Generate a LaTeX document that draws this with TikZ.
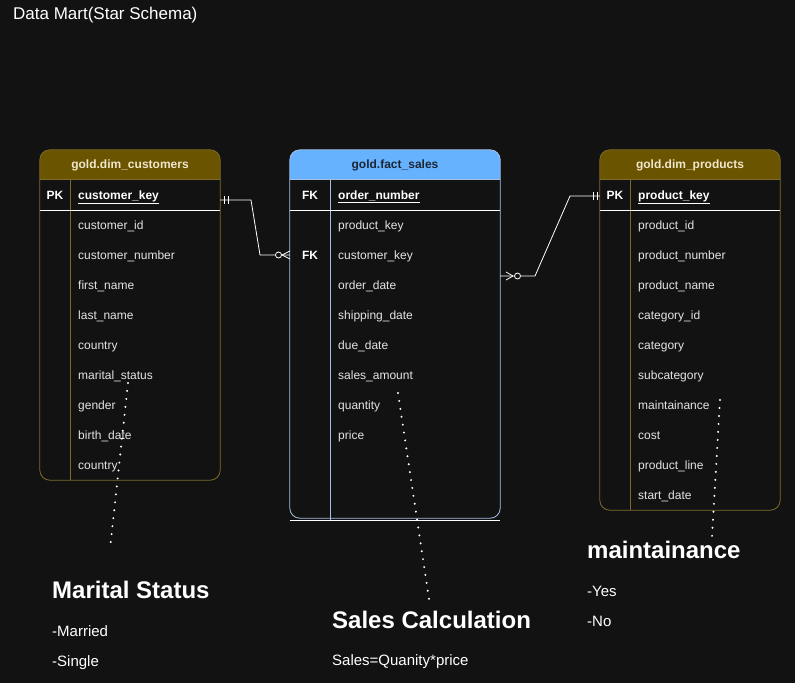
\documentclass[tikz,border=0pt]{standalone}
\usepackage{fontspec}
\setmainfont{Liberation Sans}
\definecolor{bgc}{HTML}{121212}
\definecolor{goldfill}{HTML}{6B5400}
\definecolor{goldline}{HTML}{7C6A2A}
\definecolor{bluefill}{HTML}{66B2FF}
\definecolor{blueline}{HTML}{A3BFE6}
\definecolor{txt}{HTML}{E4E4E4}
\definecolor{headtxt}{HTML}{EFE6CC}
\definecolor{bluetxt}{HTML}{1C2633}
\begin{document}
\begin{tikzpicture}[x=1pt,y=-1pt,
  rowtxt/.style={anchor=base west, inner sep=0pt, text=txt, font=\fontsize{12}{14}\selectfont},
  keytxt/.style={anchor=base west, inner sep=0pt, text=white, font=\fontsize{12}{14}\selectfont\bfseries},
  pktxt/.style={anchor=base, inner sep=0pt, text=white, font=\fontsize{12}{14}\selectfont\bfseries},
  hdtxt/.style={anchor=base, inner sep=0pt, font=\fontsize{12}{14}\selectfont\bfseries},
  tabbody/.style={fill=bgc, rounded corners=10pt, inner sep=0pt, minimum width=#1},
  conn/.style={draw=white, line width=0.8pt},
  dots/.style={draw=white, line width=2.2pt, line cap=round, dash pattern=on 0pt off 8pt},
  bigtxt/.style={anchor=base west, inner sep=0pt, text=white, font=\fontsize{24}{28}\selectfont\bfseries},
  smalltxt/.style={anchor=base west, inner sep=0pt, text=white, font=\fontsize{15}{18}\selectfont},
]
\fill[bgc] (0,0) rectangle (795,683);
\useasboundingbox (0,0) rectangle (795,683);

% title
\node[smalltxt, font=\fontsize{17}{20}\selectfont] (title) at (13,19) {Data Mart(Star Schema)};

% ---------- dim_customers ----------
\node[tabbody=180pt, minimum height=330pt] (cust) at (130,315) {};
\begin{scope}
  \clip (cust.north west) rectangle ([yshift=-30pt]cust.north east);
  \fill[goldfill, rounded corners=10pt] (cust.north west) rectangle (cust.south east);
\end{scope}
\draw[goldline, line width=0.8pt] ([yshift=-30pt]cust.north west) -- ([yshift=-30pt]cust.north east);
\draw[goldline, line width=0.8pt] (70,180) -- (cust.south -| 70,0);
\draw[white, line width=0.8pt] (cust.west |- 0,210) -- (cust.east |- 0,210);
\draw[goldline, line width=0.8pt, rounded corners=10pt] (cust.north west) rectangle (cust.south east);
\node[hdtxt, text=headtxt] (custh) at (130,168.7) {gold.dim\_customers};
\node[pktxt] (cpk) at (55,199.3) {PK};
\node[keytxt] (ckey) at (78,199.3) {\underline{customer\_key}};
\foreach \t [count=\i] in {customer\_id, customer\_number, first\_name, last\_name, country, marital\_status, gender, birth\_date, country}
  \node[rowtxt] (cr\i) at (78,195+30*\i+4.3) {\t};

% ---------- fact_sales ----------
\node[tabbody=210pt, minimum height=370pt] (fact) at (395,335) {};
\begin{scope}
  \clip (fact.north west) rectangle ([yshift=-30pt]fact.north east);
  \fill[bluefill, rounded corners=10pt] (fact.north west) rectangle (fact.south east);
\end{scope}
\draw[blueline, line width=0.8pt] ([yshift=-30pt]fact.north west) -- ([yshift=-30pt]fact.north east);
\draw[blueline, line width=0.8pt] (330,180) -- (fact.south -| 330,0);
\draw[white, line width=0.8pt] (fact.west |- 0,210) -- (fact.east |- 0,210);
\draw[blueline, line width=0.8pt, rounded corners=10pt] (fact.north west) rectangle ([yshift=2pt]fact.south east);
\draw[white, line width=0.9pt] (fact.south west) -- (fact.south east);
\node[hdtxt, text=bluetxt] (facth) at (395,168.7) {gold.fact\_sales};
\node[pktxt] (fpk) at (310,199.3) {FK};
\node[keytxt] (fkey) at (338,199.3) {\underline{order\_number}};
\node[pktxt] (ffk) at (310,259.3) {FK};
\foreach \t [count=\i] in {product\_key, customer\_key, order\_date, shipping\_date, due\_date, sales\_amount, quantity, price}
  \node[rowtxt] (fr\i) at (338,195+30*\i+4.3) {\t};

% ---------- dim_products ----------
\node[tabbody=180pt, minimum height=360pt] (prod) at (690,330) {};
\begin{scope}
  \clip (prod.north west) rectangle ([yshift=-30pt]prod.north east);
  \fill[goldfill, rounded corners=10pt] (prod.north west) rectangle (prod.south east);
\end{scope}
\draw[goldline, line width=0.8pt] ([yshift=-30pt]prod.north west) -- ([yshift=-30pt]prod.north east);
\draw[goldline, line width=0.8pt] (630,180) -- (prod.south -| 630,0);
\draw[white, line width=0.8pt] (prod.west |- 0,210) -- (prod.east |- 0,210);
\draw[goldline, line width=0.8pt, rounded corners=10pt] (prod.north west) rectangle (prod.south east);
\node[hdtxt, text=headtxt] (prodh) at (690,168.7) {gold.dim\_products};
\node[pktxt] (ppk) at (615,199.3) {PK};
\node[keytxt] (pkey) at (638,199.3) {\underline{product\_key}};
\foreach \t [count=\i] in {product\_id, product\_number, product\_name, category\_id, category, subcategory, maintainance, cost, product\_line, start\_date}
  \node[rowtxt] (pr\i) at (638,195+30*\i+4.3) {\t};

% ---------- connectors ----------
\coordinate (k1) at (251,200);
\coordinate (k2) at (260,255);
\draw[conn] (cust.east |- 0,200) -- (k1) -- (k2) -- (fact.west |- 0,255);
\draw[conn] (224,196) -- (224,204) (228,196) -- (228,204);
\draw[conn] (282,255) -- (290,251) (282,255) -- (290,259);
\draw[conn, fill=bgc] (278.5,255) circle (3pt);

\coordinate (k3) at (535,276);
\coordinate (k4) at (570,196);
\draw[conn] (fact.east |- 0,276) -- (k3) -- (k4) -- (prod.west |- 0,196);
\draw[conn] (513,276) -- (506,272) (513,276) -- (506,280);
\draw[conn, fill=bgc] (517.5,276) circle (3pt);
\draw[conn] (593,192) -- (593,200) (597,192) -- (597,200);

% ---------- notes ----------
\node[bigtxt] (ms) at (52,598) {Marital Status};
\node[smalltxt] (m1) at (52,636) {-Married};
\node[smalltxt] (m2) at (52,666) {-Single};
\node[bigtxt] (sc) at (332,628) {Sales Calculation};
\node[smalltxt] (sf) at (332,665) {Sales=Quanity*price};
\node[bigtxt] (mt) at (587,558) {maintainance};
\node[smalltxt] (y1) at (587,596) {-Yes};
\node[smalltxt] (y2) at (587,626) {-No};

\coordinate (d1a) at (128,383);
\coordinate (d1b) at (110,549);
\coordinate (d2a) at (398,393);
\coordinate (d2b) at (429,599);
\coordinate (d3a) at (720,400);
\coordinate (d3b) at (712,537);
\draw[dots] (d1a) -- (d1b);
\draw[dots] (d2a) -- (d2b);
\draw[dots] (d3a) -- (d3b);
\end{tikzpicture}
\end{document}
